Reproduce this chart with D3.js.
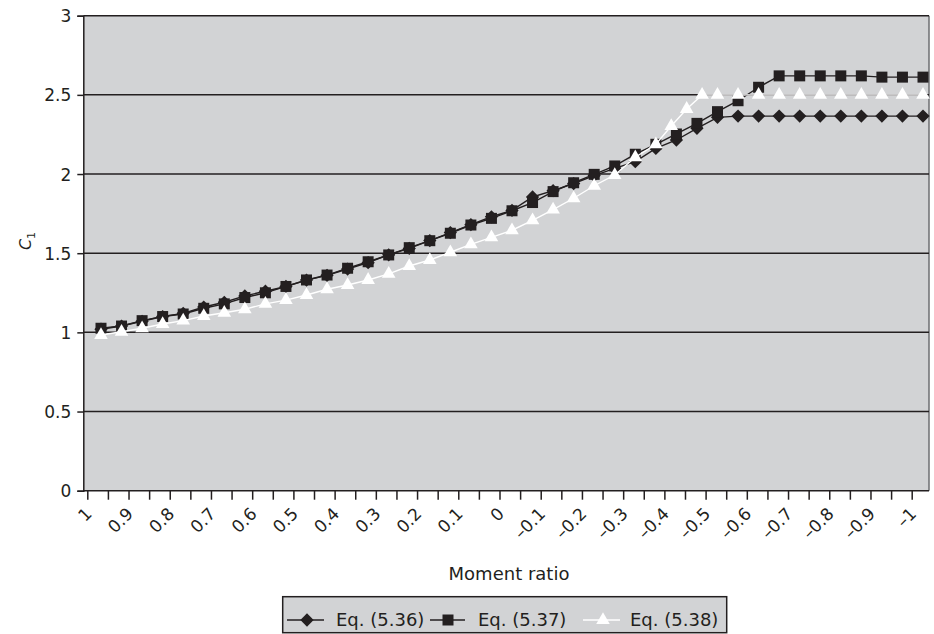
<!DOCTYPE html>
<html><head><meta charset="utf-8">
<script src="https://cdn.jsdelivr.net/npm/d3@7/dist/d3.min.js"></script>
<style>body{margin:0;background:#fff}svg{display:block}text{font-family:"DejaVu Sans",sans-serif;fill:#231f20}</style>
</head><body><svg id="c" width="934" height="634"></svg>
<script>
// ---- data ----
const ratios = [1,0.95,0.9,0.85,0.8,0.75,0.7,0.65,0.6,0.55,0.5,0.45,0.4,0.35,0.3,0.25,0.2,0.15,0.1,0.05,0,-0.05,-0.1,-0.15,-0.2,-0.25,-0.3,-0.35,-0.4,-0.45,-0.5,-0.55,-0.6,-0.65,-0.7,-0.75,-0.8,-0.85,-0.9,-0.95,-1];
const eq536 = [1.02,1.04,1.07,1.10,1.12,1.16,1.19,1.23,1.26,1.29,1.33,1.36,1.40,1.44,1.49,1.53,1.58,1.63,1.68,1.73,1.77,1.855,1.895,1.94,1.99,2.036,2.078,2.162,2.215,2.289,2.358,2.366,2.366,2.366,2.366,2.366,2.366,2.366,2.366,2.366,2.366];
const eq537 = [1.026,1.04,1.074,1.10,1.116,1.152,1.18,1.22,1.25,1.29,1.331,1.362,1.405,1.446,1.489,1.535,1.579,1.626,1.678,1.72,1.768,1.82,1.889,1.945,1.998,2.051,2.125,2.188,2.253,2.32,2.394,2.463,2.548,2.62,2.62,2.62,2.62,2.62,2.612,2.612,2.612];
const ratios538 = [1,0.95,0.9,0.85,0.8,0.75,0.7,0.65,0.6,0.55,0.5,0.45,0.4,0.35,0.3,0.25,0.2,0.15,0.1,0.05,0,-0.05,-0.1,-0.15,-0.2,-0.25,-0.3,-0.35,-0.3875,-0.425,-0.4625,-0.5,-0.55,-0.6,-0.65,-0.7,-0.75,-0.8,-0.85,-0.9,-0.95,-1];
const eq538 = [0.983,1.004,1.026,1.053,1.074,1.103,1.124,1.146,1.18,1.204,1.236,1.272,1.299,1.331,1.369,1.419,1.457,1.506,1.556,1.60,1.645,1.707,1.775,1.847,1.926,1.994,2.106,2.188,2.303,2.411,2.5,2.5,2.5,2.5,2.5,2.5,2.5,2.5,2.5,2.5,2.5,2.5];
const yTicks = [0,0.5,1,1.5,2,2.5,3];
const seriesNames = ["Eq. (5.36)","Eq. (5.37)","Eq. (5.38)"];

// ---- layout ----
const svg = d3.select("#c");
const L = 83.3, R = 929, T = 15.7, B = 490.7;
const y = d3.scaleLinear().domain([0,3]).range([B,T]);
const xTick = d3.scaleLinear().domain([1,-1]).range([87.3,911.7]);
const xPt = d3.scaleLinear().domain([1,-1]).range([101,923]);
const dark = "#231f20";

svg.append("rect").attr("x",L).attr("y",T).attr("width",R-L).attr("height",B-T).attr("fill","#d2d3d5");
svg.append("line").attr("x1",R).attr("x2",R).attr("y1",T).attr("y2",B).attr("stroke","#6d6e70").attr("stroke-width",1.5);
svg.append("g").selectAll("line").data(yTicks.filter(d=>d>0)).join("line")
  .attr("x1",L).attr("x2",R).attr("y1",d=>y(d)).attr("y2",d=>y(d))
  .attr("stroke",dark).attr("stroke-width",1.5);

// y axis
const ya = svg.append("g").attr("transform",`translate(${L},0)`)
  .call(d3.axisLeft(y).tickValues(yTicks).tickSize(6).tickPadding(6).tickFormat(d=>String(d)));
ya.selectAll("text").style("font-size","17px").attr("dy","0.36em");
ya.selectAll("line,path").attr("stroke",dark).attr("stroke-width",1.5);

// x axis
const fmt = d => { const v = Math.round(d*10)/10; return v<0 ? "\u2013"+String(-v) : String(v); };
const xa = svg.append("g").attr("transform",`translate(0,${B})`)
  .call(d3.axisBottom(xTick).tickValues(ratios).tickSize(9).tickSizeOuter(0)
    .tickFormat((d,i)=> i%2===0 ? fmt(d) : ""));
xa.select("path").attr("d",`M${L},0H${R}`);
xa.selectAll("line,path").attr("stroke",dark).attr("stroke-width",1.5);
xa.selectAll("text").style("font-size","17px").attr("text-anchor","end")
  .attr("x",0).attr("y",0).attr("dy","0.35em").attr("transform","translate(1,20) rotate(-45)");

// titles
svg.append("text").attr("x",509).attr("y",580).attr("text-anchor","middle").style("font-size","18px").text("Moment ratio");
const yl = svg.append("text").attr("transform","translate(31,241) rotate(-90)").attr("text-anchor","middle").style("font-size","16px");
yl.append("tspan").style("font-style","italic").text("C");
yl.append("tspan").attr("dy","4").style("font-size","11px").text("1");

// markers
const diamond = d3.symbol().type(d3.symbolSquare).size(88);
const square = d3.symbol().type(d3.symbolSquare).size(121);
const tri = d3.symbol().type(d3.symbolTriangle).size(80);
const line = (xs)=> d3.line().x((d,i)=>xPt(xs[i])).y(d=>y(d));

function drawSeries(xs, vals, stroke, sym, fill, rot){
  svg.append("path").datum(vals).attr("d",line(xs)).attr("fill","none").attr("stroke",stroke).attr("stroke-width",1.4);
  svg.append("g").selectAll("path").data(vals).join("path")
    .attr("d",sym).attr("fill",fill)
    .attr("transform",(d,i)=>`translate(${xPt(xs[i])},${y(d)})${rot?" rotate(45)":""}`);
}
drawSeries(ratios, eq536, dark, diamond, dark, true);
drawSeries(ratios, eq537, dark, square, dark, false);
drawSeries(ratios538, eq538, "#ffffff", tri, "#ffffff", false);

// legend
const lg = svg.append("g");
lg.append("rect").attr("x",282.7).attr("y",596.7).attr("width",444).attr("height",36).attr("fill","#d2d3d5").attr("stroke",dark).attr("stroke-width",1.5);
const items = [
  {x1:287,x2:324,cx:307,sym:diamond,rot:true,col:dark,fill:dark,tx:336},
  {x1:430,x2:465,cx:448,sym:square,rot:false,col:dark,fill:dark,tx:478},
  {x1:583,x2:620,cx:603,sym:tri,rot:false,col:"#fff",fill:"#fff",tx:630}];
items.forEach((it,k)=>{
  lg.append("line").attr("x1",it.x1).attr("x2",it.x2).attr("y1",620).attr("y2",620).attr("stroke",it.col).attr("stroke-width",1.4);
  lg.append("path").attr("d",it.sym).attr("fill",it.fill).attr("transform",`translate(${it.cx},620)${it.rot?" rotate(45)":""}`);
  lg.append("text").attr("x",it.tx).attr("y",620).attr("dy","0.36em").style("font-size","18px").text(seriesNames[k]);
});
</script></body></html>
